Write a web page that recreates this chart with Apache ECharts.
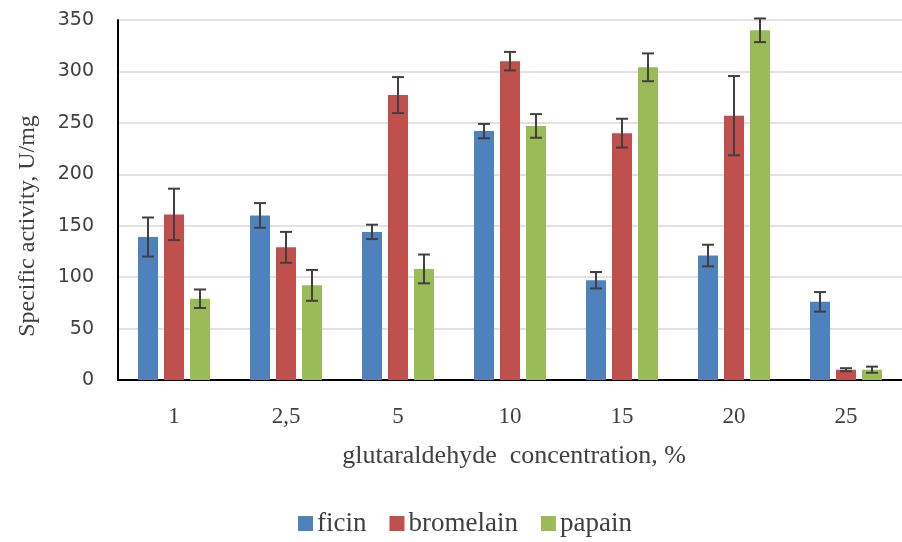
<!DOCTYPE html>
<html>
<head>
<meta charset="utf-8">
<script src="https://cdn.jsdelivr.net/npm/echarts@6/dist/echarts.min.js"></script>
<style>html,body{margin:0;padding:0;background:#fff}#c{width:902px;height:542px}</style>
</head>
<body>
<div id="c"></div>
<script>
var categories = ['1', '2,5', '5', '10', '15', '20', '25'];
var seriesNames = ['ficin', 'bromelain', 'papain'];
var ficin = [139, 160, 144, 242, 97, 121, 76];
var ficinErr = [19, 12, 7, 7, 8, 10.5, 9.5];
var bromelain = [161, 129, 277, 310, 240, 257, 10];
var bromelainErr = [25, 15, 17.5, 9, 14, 38.5, 1.5];
var papain = [79, 92, 108, 247, 304, 340, 10];
var papainErr = [9, 15, 14, 11.5, 13.5, 11.5, 3];
var yTicks = [0, 50, 100, 150, 200, 250, 300, 350];

var colors = ['#4F81BD', '#C0504D', '#9BBB59'];
var values = [ficin, bromelain, papain];
var errs = [ficinErr, bromelainErr, papainErr];
var BAR_W = 20, BAR_GAP = 6;

var chart = echarts.init(document.getElementById('c'), null, {renderer: 'canvas'});
var series = [];
values.forEach(function (vals, si) {
  series.push({
    name: seriesNames[si], type: 'bar', data: vals,
    barWidth: BAR_W, barGap: (BAR_GAP / BAR_W * 100) + '%',
    itemStyle: {color: colors[si]}, z: 2
  });
});
values.forEach(function (vals, si) {
  var data = vals.map(function (v, i) { return [i, v, errs[si][i]]; });
  series.push({
    type: 'custom', name: seriesNames[si] + '_err', data: data, z: 5,
    silent: true,
    renderItem: function (params, api) {
      var i = api.value(0), v = api.value(1), e = api.value(2);
      var off = (si - 1) * (BAR_W + BAR_GAP);
      var top = api.coord([i, v + e]);
      var bot = api.coord([i, v - e]);
      var x = top[0] + off;
      var cap = 6;
      var st = {stroke: '#404040', lineWidth: 2};
      return {type: 'group', children: [
        {type: 'line', shape: {x1: x, y1: top[1], x2: x, y2: bot[1]}, style: st},
        {type: 'line', shape: {x1: x - cap, y1: top[1], x2: x + cap, y2: top[1]}, style: st},
        {type: 'line', shape: {x1: x - cap, y1: bot[1], x2: x + cap, y2: bot[1]}, style: st}
      ]};
    }
  });
});

chart.setOption({
  animation: false,
  textStyle: {fontFamily: 'Liberation Serif'},
  grid: {left: 118, right: -12, top: 20, bottom: 162},
  legend: {
    data: seriesNames, left: 293, top: 505,
    icon: 'rect', itemWidth: 15, itemHeight: 15, itemGap: 23,
    textStyle: {fontFamily: 'Liberation Serif', fontSize: 27, color: '#404040', padding: [0, 0, 0, -1]}
  },
  xAxis: {
    type: 'category', data: categories,
    axisLine: {lineStyle: {color: '#000', width: 2}},
    axisTick: {show: false},
    axisLabel: {fontFamily: 'Liberation Serif', fontSize: 23, color: '#404040', margin: 25},
    name: 'glutaraldehyde  concentration, %', nameLocation: 'middle', nameGap: 63,
    nameTextStyle: {fontFamily: 'Liberation Serif', fontSize: 26, color: '#404040', padding: [0, 0, 0, 8]}
  },
  yAxis: {
    type: 'value', min: yTicks[0], max: yTicks[yTicks.length - 1], interval: 50,
    axisLine: {show: true, lineStyle: {color: '#000', width: 2}},
    axisTick: {show: false},
    splitLine: {lineStyle: {color: '#d9d9d9', width: 1.5}},
    axisLabel: {fontFamily: 'DejaVu Sans', fontSize: 19, color: '#404040', margin: 24},
    name: 'Specific activity, U/mg', nameLocation: 'middle', nameGap: 78,
    nameTextStyle: {fontFamily: 'Liberation Serif', fontSize: 24, color: '#404040', padding: [0, 52, 0, 0]}
  },
  series: series
});
</script>
</body>
</html>
